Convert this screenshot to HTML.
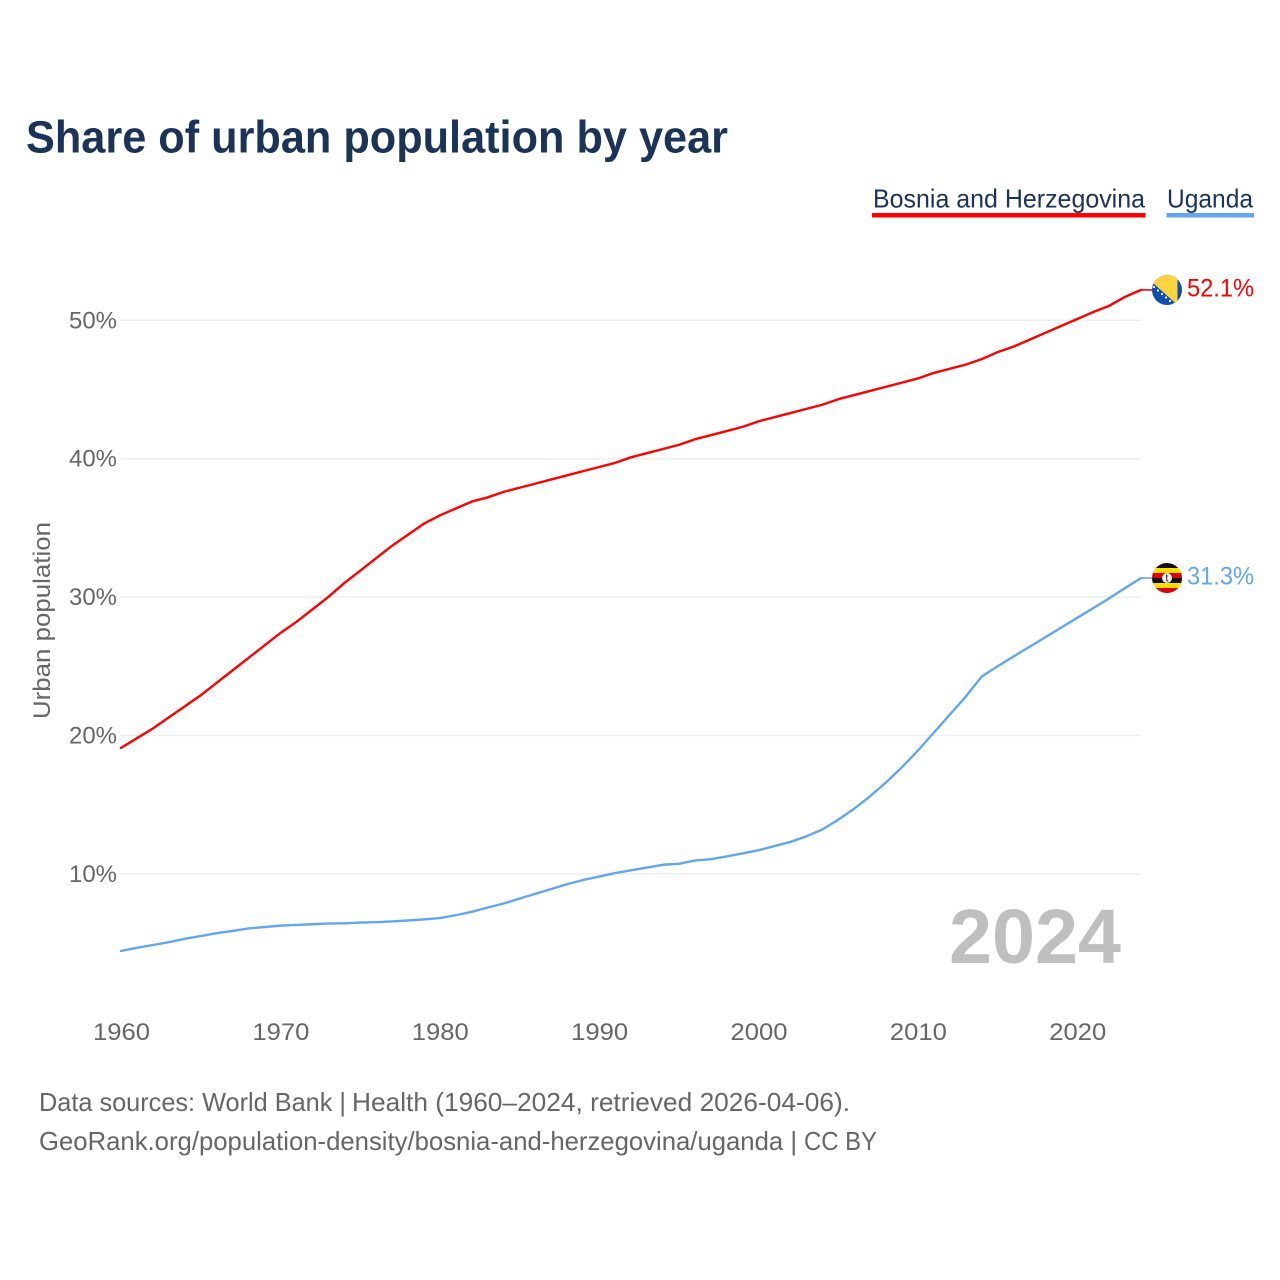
<!DOCTYPE html>
<html lang="en">
<head>
<meta charset="utf-8">
<title>Share of urban population by year</title>
<style>
html,body{margin:0;padding:0;background:#fff;width:1280px;height:1280px;overflow:hidden}
svg{display:block}
text{font-family:"Liberation Sans",sans-serif}
</style>
</head>
<body>
<svg id="chart" width="1280" height="1280" viewBox="0 0 1280 1280" xmlns="http://www.w3.org/2000/svg">
  <defs>
    <clipPath id="clip-ba"><circle cx="1167" cy="290" r="15"/></clipPath>
    <clipPath id="clip-ug"><circle cx="1167" cy="578" r="15"/></clipPath>
  </defs>
  <rect x="0" y="0" width="1280" height="1280" fill="#fff"/>
  <text x="26" y="152.500" font-size="45" font-weight="700" fill="#1a3356" textLength="702" lengthAdjust="spacingAndGlyphs">Share of urban population by year</text>

  <g>
    <g>
      <text x="873" y="207.500" font-size="26" fill="#1a3356" textLength="272" lengthAdjust="spacingAndGlyphs">Bosnia and Herzegovina</text>
      <rect x="872" y="213" width="273.500" height="4.500" fill="#ff0000"/>
    </g>
    <g>
      <text x="1167" y="207.500" font-size="26" fill="#1a3356" textLength="86" lengthAdjust="spacingAndGlyphs">Uganda</text>
      <rect x="1166.500" y="213" width="87.500" height="4.500" fill="#62a6ee"/>
    </g>
  </g>

  <g id="grid"></g>
  <g id="y-ticks"></g>
  <g id="x-ticks"></g>
  <text transform="translate(50,620.500) rotate(-90)" text-anchor="middle" font-size="24" fill="#666" textLength="197" lengthAdjust="spacingAndGlyphs">Urban population</text>
  <text x="949" y="963" font-size="77" font-weight="700" fill="#bfbfbf" textLength="172" lengthAdjust="spacingAndGlyphs">2024</text>
  <g id="series"></g>

  <g clip-path="url(#clip-ba)">
    <rect x="1152" y="275" width="30" height="30" fill="#0d4fb0"/>
    <polygon points="1144,275 1177.500,275 1177.500,305" fill="#fdd43f"/>
    <g fill="#fff">
      <circle cx="1154" cy="287" r="1.100"/><circle cx="1158" cy="290.500" r="1.100"/><circle cx="1162" cy="294" r="1.100"/><circle cx="1166" cy="297.500" r="1.100"/><circle cx="1170" cy="301" r="1.100"/><circle cx="1174" cy="304" r="1.100"/>
    </g>
  </g>
  <g clip-path="url(#clip-ug)">
    <rect x="1152" y="563" width="30" height="5" fill="#111"/>
    <rect x="1152" y="568" width="30" height="5" fill="#fcdc04"/>
    <rect x="1152" y="573" width="30" height="5" fill="#d90000"/>
    <rect x="1152" y="578" width="30" height="5" fill="#111"/>
    <rect x="1152" y="583" width="30" height="5" fill="#fcdc04"/>
    <rect x="1152" y="588" width="30" height="5" fill="#d90000"/>
    <circle cx="1167" cy="578" r="5" fill="#eee"/>
    <path d="M1166 574.500 L1167.500 575 L1167 579 L1168.500 582 L1166.500 581 Z" fill="#222"/>
  </g>

  <text x="1187" y="296.500" font-size="25" fill="#ff0000" textLength="67" lengthAdjust="spacingAndGlyphs">52.1%</text>
  <text x="1187" y="584.500" font-size="25" fill="#62a6ee" textLength="67" lengthAdjust="spacingAndGlyphs">31.3%</text>

  <text y="1111" font-size="26" fill="#666"><tspan x="39" textLength="307" lengthAdjust="spacingAndGlyphs">Data sources: World Bank |</tspan> <tspan x="352" textLength="498" lengthAdjust="spacingAndGlyphs">Health (1960–2024, retrieved 2026-04-06).</tspan></text>
  <text y="1150" font-size="26" fill="#666"><tspan x="39" textLength="758" lengthAdjust="spacingAndGlyphs">GeoRank.org/population-density/bosnia-and-herzegovina/uganda |</tspan> <tspan x="804" textLength="73" lengthAdjust="spacingAndGlyphs">CC BY</tspan></text>
</svg>
<script>
const years = [1960,1961,1962,1963,1964,1965,1966,1967,1968,1969,1970,1971,1972,1973,1974,1975,1976,1977,1978,1979,1980,1981,1982,1983,1984,1985,1986,1987,1988,1989,1990,1991,1992,1993,1994,1995,1996,1997,1998,1999,2000,2001,2002,2003,2004,2005,2006,2007,2008,2009,2010,2011,2012,2013,2014,2015,2016,2017,2018,2019,2020,2021,2022,2023,2024];
const bosniaValues = [19.1,19.8,20.5,21.3,22.1,22.9,23.8,24.7,25.6,26.5,27.4,28.2,29.1,30.0,31.0,31.9,32.8,33.7,34.5,35.3,35.9,36.4,36.9,37.2,37.6,37.9,38.2,38.5,38.8,39.1,39.4,39.7,40.1,40.4,40.7,41.0,41.4,41.7,42.0,42.3,42.7,43.0,43.3,43.6,43.9,44.3,44.6,44.9,45.2,45.5,45.8,46.2,46.5,46.8,47.2,47.7,48.1,48.6,49.1,49.6,50.1,50.6,51.05,51.7,52.2];
const ugandaValues = [4.42,4.65,4.85,5.05,5.3,5.5,5.7,5.87,6.05,6.15,6.25,6.3,6.35,6.4,6.42,6.47,6.5,6.55,6.62,6.7,6.8,7.0,7.25,7.55,7.85,8.2,8.55,8.9,9.25,9.55,9.8,10.05,10.25,10.45,10.65,10.72,10.95,11.05,11.25,11.47,11.7,12.0,12.3,12.7,13.2,13.9,14.7,15.6,16.6,17.7,18.9,20.2,21.5,22.8,24.25,25.0,25.7,26.4,27.1,27.8,28.5,29.2,29.9,30.65,31.37];
const yTickValues = [10,20,30,40,50];
const xTickValues = [1960,1970,1980,1990,2000,2010,2020];

const SVG_NS = 'http://www.w3.org/2000/svg';
function xScale(year) { return 121 + (year - 1960) * (1141 - 121) / 64; }
function yScale(value) { return 1012.1 - value * 13.835; }
function make(tag, attrs, parent) {
  const el = document.createElementNS(SVG_NS, tag);
  for (const k in attrs) el.setAttribute(k, attrs[k]);
  parent.appendChild(el);
  return el;
}

const gridGroup = document.getElementById('grid');
const yTickGroup = document.getElementById('y-ticks');
const xTickGroup = document.getElementById('x-ticks');
const seriesGroup = document.getElementById('series');

yTickValues.forEach(function (v) {
  const line = make('line', {x1: 120.5, x2: 1141.5, y1: yScale(v), y2: yScale(v), stroke: '#eeeeee', 'stroke-width': 1.4}, gridGroup);
  
  
  const label = make('text', {x: 117, y: yScale(v) + 8, 'text-anchor': 'end', 'font-size': 24, fill: '#666', textLength: 48, lengthAdjust: 'spacingAndGlyphs'}, yTickGroup);
  label.textContent = v + '%';
  
  
});

xTickValues.forEach(function (yr) {
  const label = make('text', {x: xScale(yr) + 0.5, y: 1040, 'text-anchor': 'middle', 'font-size': 24.500, fill: '#666', textLength: 57, lengthAdjust: 'spacingAndGlyphs'}, xTickGroup);
  label.textContent = String(yr);
  
  
});

function drawSeries(values, color, name) {
  const pts = values.map(function (v, i) { return xScale(years[i]).toFixed(2) + ',' + yScale(v).toFixed(2); });
  const line = make('polyline', {points: pts.join(' '), fill: 'none', stroke: color, 'stroke-width': 2.4, 'stroke-linejoin': 'round', 'stroke-linecap': 'round'}, seriesGroup);
  
  
  const last = values[values.length - 1];
  const conn = make('line', {x1: xScale(years[years.length - 1]), x2: 1153, y1: yScale(last), y2: yScale(last), stroke: color, 'stroke-width': 1.6}, seriesGroup);
  
  
}
drawSeries(bosniaValues, '#ff0000', 'bosnia-and-herzegovina');
drawSeries(ugandaValues, '#62a6ee', 'uganda');
</script>
</body>
</html>
